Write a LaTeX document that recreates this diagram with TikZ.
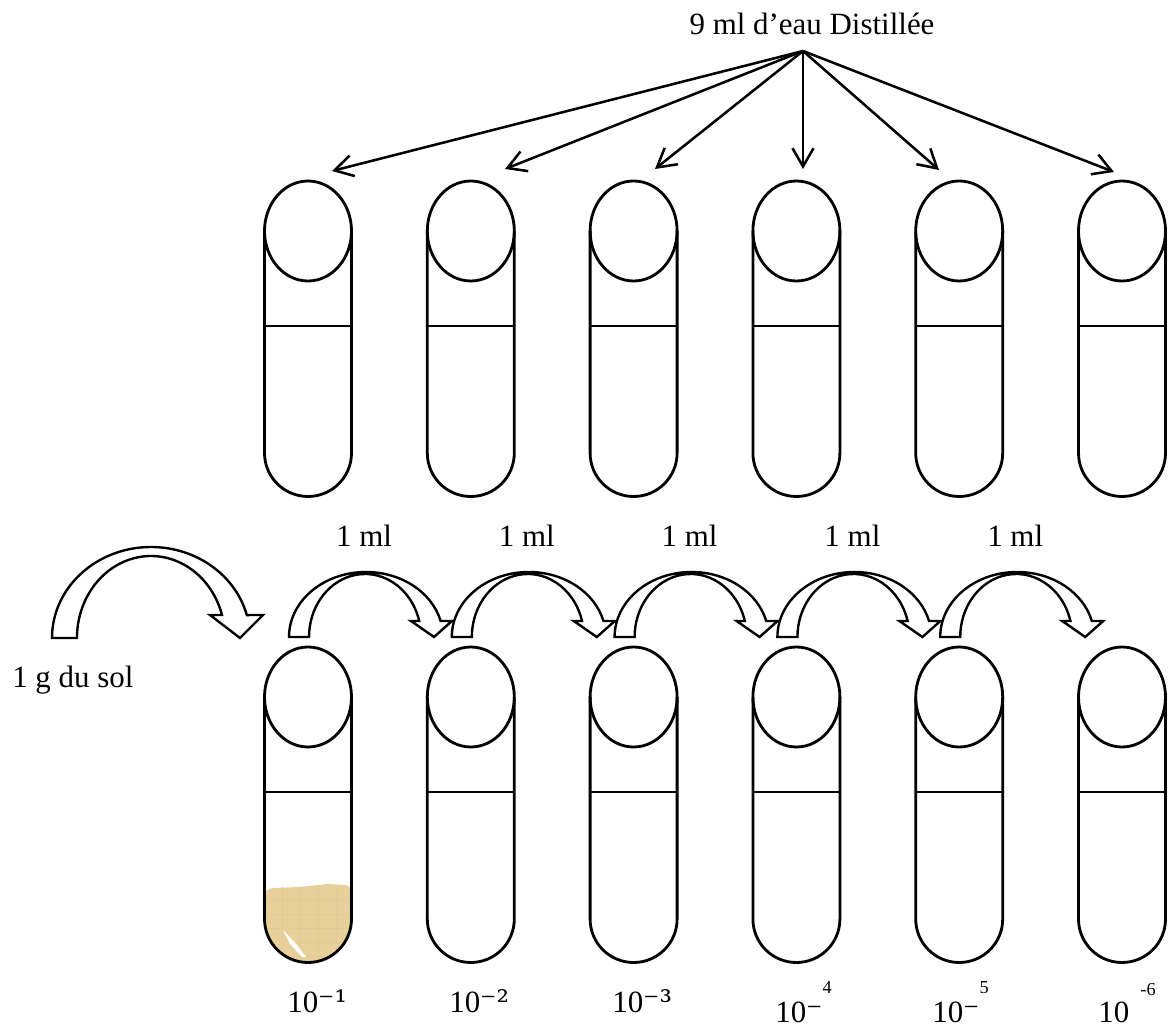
\documentclass[tikz,border=0pt]{standalone}
\usepackage{fontspec}
\setmainfont{Liberation Serif}
\newfontfamily\supfont{DejaVu Serif}
\usetikzlibrary{arrows.meta}
\definecolor{soil}{RGB}{231,208,154}

\begin{document}
\begin{tikzpicture}[x=0.025cm, y=-0.025cm,
  lbl/.style={font=\fontsize{22}{26}\selectfont, inner sep=0pt},
  glass/.style={line width=2pt},
  level/.style={line width=1pt},
  fan/.style={line width=1.8pt, -{Straight Barb[length=13pt, width=15pt]}},
  transfer/.style={draw, line width=1.7pt, fill=white, line join=miter},
  tube/.pic={
    \draw[glass] (0,0) ellipse [x radius=43.5, y radius=50];
    \draw[glass] (-43.5,0) -- (-43.5,222) arc[start angle=180, end angle=0, radius=43.5] -- (43.5,0);
    \draw[level] (-43.5,95) -- (43.5,95);
  },
  pipette/.pic={
    \draw[transfer] (-19,0) arc[start angle=180, end angle=345.7, x radius=77, y radius=65]
      -- (144,-16) -- (126,0) -- (103,-16) -- (111.2,-16)
      arc[start angle=345.3, end angle=180, x radius=56, y radius=63] -- cycle;
  }]
\useasboundingbox (0,0) rectangle (1171,1029);

% soil in the first tube
\begin{scope}
  \clip (264.5,697) -- (264.5,919) arc[start angle=180, end angle=0, radius=43.5] -- (351.5,697) -- cycle;
  \fill[soil] (262,893) -- (272,888) -- (300,887) -- (328,884) -- (346,885) -- (354,889) -- (354,970) -- (262,970) -- cycle;
  \foreach \y in {900,914,928,942,956}
    \draw[soil!80!brown, opacity=.25] (262,\y) -- (354,\y);
  \foreach \x in {282,300,318,336}
    \draw[soil!80!brown, opacity=.25] (\x,885) -- (\x,970);
  \fill[white] (283,930) -- (297,945) -- (306,957) -- (302,957) -- (290,944) -- cycle;
\end{scope}

% tubes, water on top and dilutions below
\foreach \x in {308,470.8,633.6,796.4,959.2,1122} {
  \pic at (\x,231) {tube};
  \pic at (\x,697) {tube};
}

% distilled water
\node[lbl] (water) at (812,24) {9 ml d’eau Distillée};
\coordinate (src) at (803,51);
\coordinate (t1) at (332,171);
\coordinate (t2) at (505,169);
\coordinate (t3) at (655,169);
\coordinate (t4) at (803,169);
\coordinate (t5) at (939,170);
\coordinate (t6) at (1114,172);
\foreach \t in {t1,t2,t3,t4,t5,t6}
  \draw[fan] (src) -- (\t);

% soil sample
\draw[transfer] (52,638) arc[start angle=180, end angle=345.4, x radius=99, y radius=91]
  -- (263,615) -- (240,638) -- (210,615) -- (222,615)
  arc[start angle=343.7, end angle=180, x radius=74, y radius=82] -- cycle;
\node[lbl, anchor=base west] (sol) at (12,687) {1 g du sol};

% 1 ml transfers
\foreach \x [count=\i] in {308,470.8,633.6,796.4,959.2} {
  \pic at (\x,637) {pipette};
  \node[lbl] (ml\i) at (\x+56,536) {1 ml};
}

% dilution factors
\node[lbl, anchor=base west] (d1) at (287,1012) {10{\supfont ⁻¹}};
\node[lbl, anchor=base west] (d2) at (449,1012) {10{\supfont ⁻²}};
\node[lbl, anchor=base west] (d3) at (612,1012) {10{\supfont ⁻³}};
\node[lbl, anchor=base west] (d4) at (775,1022) {10{\supfont ⁻}\raisebox{20pt}{\fontsize{13}{13}\selectfont 4}};
\node[lbl, anchor=base west] (d5) at (932,1022) {10{\supfont ⁻}\raisebox{20pt}{\fontsize{13}{13}\selectfont 5}};
\node[lbl, anchor=base west] (d6) at (1098,1022) {10\hspace{8pt}\raisebox{19pt}{\fontsize{13}{13}\selectfont -6}};
\end{tikzpicture}
\end{document}
